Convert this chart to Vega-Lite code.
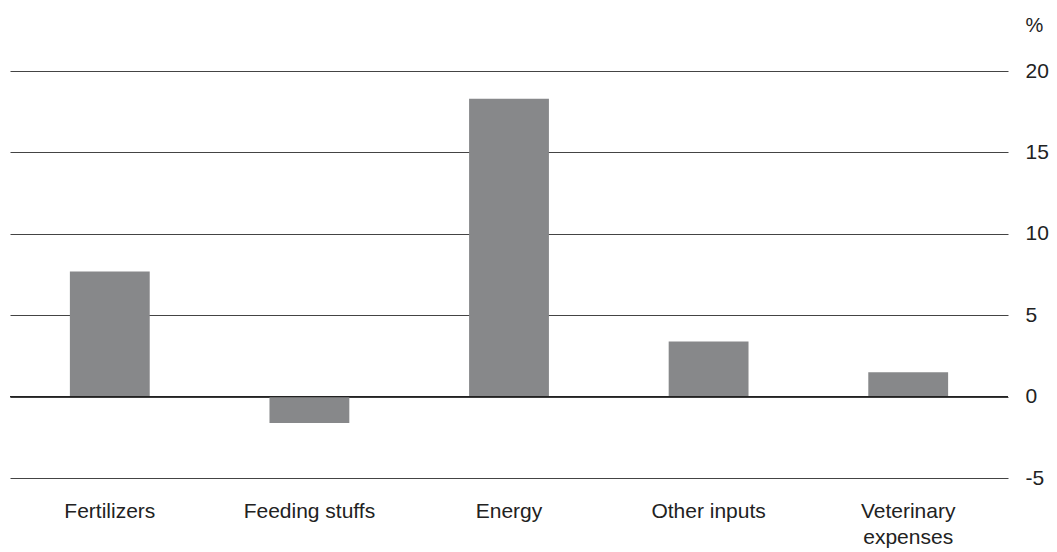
{
  "$schema": "https://vega.github.io/schema/vega-lite/v6.json",
  "width": 998,
  "height": 407,
  "autosize": {"type": "none"},
  "padding": {"left": 10, "top": 71, "right": 49, "bottom": 74},
  "background": "white",
  "config": {
    "view": {"stroke": null},
    "font": "Liberation Sans"
  },
  "data": {
    "values": [
      {"category": "Fertilizers", "value": 7.68},
      {"category": "Feeding stuffs", "value": -1.62},
      {"category": "Energy", "value": 18.3},
      {"category": "Other inputs", "value": 3.38},
      {"category": "Veterinary expenses", "value": 1.49}
    ]
  },
  "layer": [
    {
      "mark": {"type": "bar", "color": "#87888a"},
      "encoding": {
        "x": {
          "field": "category",
          "type": "nominal",
          "sort": null,
          "scale": {"paddingInner": 0.6, "paddingOuter": 0.3},
          "axis": {
            "title": null,
            "labelAngle": 0,
            "domain": false,
            "ticks": false,
            "labelPadding": 22,
            "labelFontSize": 21,
            "labelColor": "#222",
            "labelLineHeight": 26,
            "labelExpr": "datum.label == 'Veterinary expenses' ? ['Veterinary', 'expenses'] : datum.label"
          }
        },
        "y": {
          "field": "value",
          "type": "quantitative",
          "scale": {"domain": [-5, 20], "nice": false},
          "axis": {
            "orient": "right",
            "values": [-5, 0, 5, 10, 15, 20],
            "labelExpr": "'' + datum.value",
            "title": "%",
            "titleAngle": 0,
            "titleX": 17,
            "titleY": -46,
            "titleAlign": "left",
            "titleBaseline": "middle",
            "titleFontSize": 20,
            "titleFontWeight": "normal",
            "titleColor": "#222",
            "domain": false,
            "ticks": false,
            "grid": true,
            "gridColor": "#444",
            "gridWidth": 1,
            "labelPadding": 17,
            "labelFontSize": 21,
            "labelColor": "#222"
          }
        }
      }
    },
    {
      "data": {"values": [{"zero": 0}]},
      "mark": {"type": "rule", "color": "#222", "strokeWidth": 1.2},
      "encoding": {
        "y": {"field": "zero", "type": "quantitative"}
      }
    }
  ]
}
